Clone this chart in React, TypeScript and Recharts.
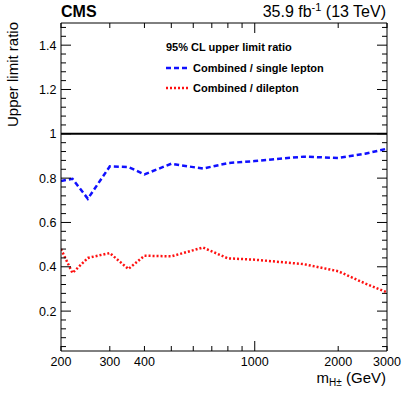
import React from 'react';
import { LineChart, Line, XAxis, YAxis, ReferenceLine } from 'recharts';

const masses = [200, 220, 250, 300, 350, 400, 500, 650, 800, 1000, 1500, 2000, 2500, 3000];
const singleLepton = [0.787, 0.797, 0.707, 0.853, 0.85, 0.817, 0.865, 0.843, 0.868, 0.877, 0.897, 0.891, 0.91, 0.933];
const dilepton = [0.48, 0.372, 0.44, 0.462, 0.39, 0.45, 0.447, 0.487, 0.438, 0.432, 0.412, 0.38, 0.325, 0.285];

const xTicks = [200, 300, 400, 500, 600, 700, 800, 900, 1000, 2000, 3000];
const xTickLabels = [200, 300, 400, 1000, 2000, 3000];
const yTickLabels = [0.2, 0.4, 0.6, 0.8, 1, 1.2, 1.4];

const data = masses.map((m, i) => ({ m, single: singleLepton[i], di: dilepton[i] }));
const yTicks = Array.from({ length: 37 }, (_, i) => ((i + 1) * 4) / 100);

const FONT = '"Liberation Sans", Arial, Helvetica, sans-serif';
const isMajorY = (v: number) => Math.abs(v * 5 - Math.round(v * 5)) < 1e-6;

const BottomTick = (props: any) => {
  const { x, y, payload } = props;
  const v = payload.value;
  const len = v === 1000 ? 10 : 5;
  return (
    <g>
      <line x1={x} x2={x} y1={y} y2={y - len} stroke="#000" strokeWidth={1} />
      {xTickLabels.includes(v) && (
        <text x={x} y={y + 15} textAnchor="middle" fontSize={12.5} fontFamily={FONT} fill="#000">
          {v}
        </text>
      )}
    </g>
  );
};

const TopTick = (props: any) => {
  const { x, y, payload } = props;
  const v = payload.value;
  const len = v === 1000 ? 10 : 5;
  return <line x1={x} x2={x} y1={y} y2={y + len} stroke="#000" strokeWidth={1} />;
};

const LeftTick = (props: any) => {
  const { x, y, payload } = props;
  const v = payload.value;
  const major = isMajorY(v);
  const label = yTickLabels.find((t) => Math.abs(t - v) < 1e-6);
  return (
    <g>
      <line x1={x} x2={x + (major ? 10 : 5)} y1={y} y2={y} stroke="#000" strokeWidth={1} />
      {label !== undefined && (
        <text x={x - 4.5} y={y} dy="0.36em" textAnchor="end" fontSize={12.5} fontFamily={FONT} fill="#000">
          {String(label)}
        </text>
      )}
    </g>
  );
};

const RightTick = (props: any) => {
  const { x, y, payload } = props;
  const major = isMajorY(payload.value);
  return <line x1={x} x2={x - (major ? 10 : 5)} y1={y} y2={y} stroke="#000" strokeWidth={1} />;
};

export default function App() {
  return (
    <div style={{ position: 'absolute', left: 0, top: 0, width: 407, height: 395, background: '#fff' }}>
      <LineChart width={407} height={395} data={data} margin={{ top: 22, right: 19, left: 0, bottom: 0 }}>
        <XAxis
          dataKey="m"
          type="number"
          scale="log"
          domain={[200, 3000]}
          allowDataOverflow
          ticks={xTicks}
          interval={0}
          height={44}
          tickSize={0}
          tickMargin={0}
          tickLine={false}
          tick={<BottomTick />}
          axisLine={{ stroke: '#000', strokeWidth: 1 }}
        />
        <XAxis
          xAxisId="top"
          orientation="top"
          dataKey="m"
          type="number"
          scale="log"
          domain={[200, 3000]}
          allowDataOverflow
          ticks={xTicks}
          interval={0}
          height={1}
          tickSize={0}
          tickMargin={0}
          tickLine={false}
          tick={<TopTick />}
          axisLine={{ stroke: '#000', strokeWidth: 1 }}
        />
        <YAxis
          type="number"
          domain={[0.02, 1.5]}
          allowDataOverflow
          ticks={yTicks}
          interval={0}
          width={61}
          tickSize={0}
          tickMargin={0}
          tickLine={false}
          tick={<LeftTick />}
          axisLine={{ stroke: '#000', strokeWidth: 1 }}
        />
        <YAxis
          yAxisId="right"
          orientation="right"
          type="number"
          domain={[0.02, 1.5]}
          allowDataOverflow
          ticks={yTicks}
          interval={0}
          width={1}
          tickSize={0}
          tickMargin={0}
          tickLine={false}
          tick={<RightTick />}
          axisLine={{ stroke: '#000', strokeWidth: 1 }}
        />
        <ReferenceLine y={1} stroke="#000" strokeWidth={2} />
        <Line
          dataKey="single"
          type="linear"
          stroke="#1010ff"
          strokeWidth={2.5}
          strokeDasharray="5 3"
          dot={false}
          isAnimationActive={false}
        />
        <Line
          dataKey="di"
          type="linear"
          stroke="#ff1010"
          strokeWidth={2.5}
          strokeDasharray="2 2"
          dot={false}
          isAnimationActive={false}
        />
      </LineChart>
      <svg
        width={407}
        height={395}
        style={{ position: 'absolute', left: 0, top: 0, pointerEvents: 'none' }}
        fontFamily={FONT}
      >
        <text x={61} y={17} fontSize={16} fontWeight="bold" fill="#000">CMS</text>
        <text x={386} y={17} fontSize={16} textAnchor="end" fill="#000">
          35.9 fb<tspan dy={-6} fontSize={11}>-1</tspan>
          <tspan dy={6}> (13 TeV)</tspan>
        </text>
        <text transform="translate(18,22) rotate(-90)" fontSize={15} textAnchor="end" fill="#000">
          Upper limit ratio
        </text>
        <text x={386} y={383} fontSize={15} textAnchor="end" fill="#000">
          m<tspan dy={3} fontSize={10}>H±</tspan>
          <tspan dy={-3}> (GeV)</tspan>
        </text>
        <text x={166} y={51} fontSize={11} fontWeight="bold" fill="#000">95% CL upper limit ratio</text>
        <line x1={166} x2={189} y1={68} y2={68} stroke="#1010ff" strokeWidth={2.5} strokeDasharray="5 3" />
        <text x={193} y={72} fontSize={11} fontWeight="bold" fill="#000">Combined / single lepton</text>
        <line x1={166} x2={189} y1={88} y2={88} stroke="#ff1010" strokeWidth={2.5} strokeDasharray="2 2" />
        <text x={193} y={92} fontSize={11} fontWeight="bold" fill="#000">Combined / dilepton</text>
      </svg>
    </div>
  );
}
